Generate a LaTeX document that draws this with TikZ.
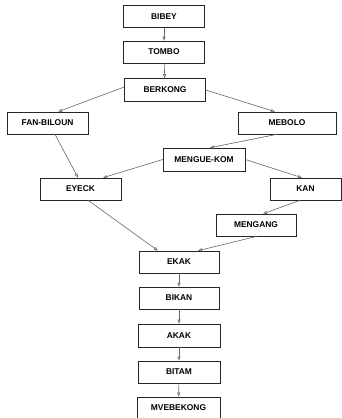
\documentclass[tikz,border=0pt]{standalone}
\usepackage{fontspec}
\setmainfont{Liberation Sans}
\usetikzlibrary{arrows.meta}
\begin{document}
\begin{tikzpicture}[x=1pt,y=-1pt,
  box/.style={draw=black!85,line width=0.6pt,minimum width=81pt,minimum height=22pt,inner sep=0pt,
    font=\fontsize{8.4}{9}\selectfont\bfseries,fill=white},
  edge/.style={draw=black!60,line width=0.6pt,-{Triangle[open,length=4pt,width=3pt]}}]
\useasboundingbox (0,0) rectangle (342,418);
\node[box] (bibey) at (164,16.5) {BIBEY};
\node[box] (tombo) at (164,52) {TOMBO};
\node[box,minimum height=23pt] (berkong) at (165,90) {BERKONG};
\node[box] (fan) at (47.5,123) {FAN-BILOUN};
\node[box,minimum width=98pt] (mebolo) at (287,123) {MEBOLO};
\node[box,minimum width=82pt,minimum height=23pt] (mengue) at (204,159.5) {MENGUE-KOM};
\node[box] (eyeck) at (80.5,189) {EYECK};
\node[box,minimum width=71pt] (kan) at (305.5,189) {KAN};
\node[box,minimum width=80pt] (mengang) at (256,225) {MENGANG};
\node[box,minimum width=80pt] (ekak) at (179,262) {EKAK};
\node[box,minimum width=80pt] (bikan) at (179,298) {BIKAN};
\node[box,minimum width=82pt,minimum height=23pt] (akak) at (179,335.5) {AKAK};
\node[box,minimum width=82pt] (bitam) at (179,372) {BITAM};
\node[box,minimum width=83pt] (mve) at (178.5,408) {MVEBEKONG};
\draw[edge] (bibey) -- (tombo);
\draw[edge] (tombo) -- (berkong);
\draw[edge] ([yshift=3pt]berkong.west) -- ([xshift=10.5pt]fan.north);
\draw[edge] (berkong.east) -- ([xshift=-12pt]mebolo.north);
\draw[edge] ([xshift=7.5pt]fan.south) -- ([xshift=-2.5pt]eyeck.north);
\draw[edge] ([xshift=-10pt]mebolo.south) -- ([xshift=6pt]mengue.north);
\draw[edge] (mengue.west) -- ([xshift=22.5pt]eyeck.north);
\draw[edge] (mengue.east) -- ([xshift=-3.5pt]kan.north);
\draw[edge] ([xshift=-5.5pt]kan.south) -- ([xshift=7pt]mengang.north);
\draw[edge] ([xshift=7.5pt]eyeck.south) -- ([xshift=-21pt]ekak.north);
\draw[edge] ([xshift=1pt]mengang.south) -- ([xshift=19pt]ekak.north);
\draw[edge] (ekak) -- (bikan);
\draw[edge] (bikan) -- (akak);
\draw[edge] (akak) -- (bitam);
\draw[edge] (bitam) -- (mve);
\end{tikzpicture}
\end{document}
